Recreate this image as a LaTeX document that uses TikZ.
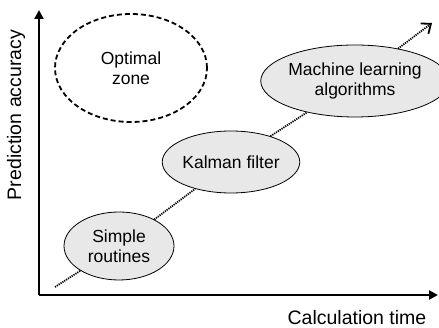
\documentclass[tikz,border=0pt]{standalone}
\usepackage{fontspec}
\setmainfont{Liberation Sans}
\usetikzlibrary{arrows.meta,shapes.geometric}
\begin{document}
\begin{tikzpicture}[x=1pt,y=1pt,
  axis/.style={line width=2.6pt,-{Triangle[length=9pt,width=9pt]}},
  stage/.style={ellipse,draw,line width=0.8pt,fill=gray!18,align=center,
    font=\fontsize{17.5}{20}\selectfont,inner sep=0pt},
  goal/.style={ellipse,draw,dashed,dash pattern=on 5pt off 3pt,line width=1.8pt,
    align=center,font=\fontsize{17.5}{20}\selectfont,inner sep=0pt},
  trend/.style={line width=1.8pt,dash pattern=on 1.2pt off 1pt},
  axlabel/.style={font=\fontsize{19.5}{22}\selectfont,inner sep=0pt}]
\useasboundingbox (0,0) rectangle (439,328);
% axes
\coordinate (o) at (39,33);
\coordinate (ytop) at (39,318);
\coordinate (xend) at (438,33);
\draw[axis] (o) -- (ytop);
\draw[axis] (o) -- (xend);
\node[axlabel,rotate=90] (ylab) at (16,213) {Prediction accuracy};
\node[axlabel] (xlab) at (357,10) {Calculation time};
% regions
\node[goal,minimum width=152,minimum height=108] (opt) at (131,260) {Optimal\\zone};
\node[stage,minimum width=110,minimum height=68] (simple) at (119,82) {Simple\\routines};
\node[stage,minimum width=117,minimum height=62] (kalman) at (231,166) {Kalman filter};
\node[stage,minimum width=164,minimum height=72] (ml) at (355,247) {Machine learning\\algorithms};
% trend line
\coordinate (tstart) at (55,41);
\coordinate (tend) at (432,305);
\draw[trend] (tstart) -- (simple);
\draw[trend] (simple) -- (kalman);
\draw[trend] (kalman) -- (ml);
\draw[trend,-{Straight Barb[length=8pt,width=13pt,line width=1.8pt]}] (ml) -- (tend);
\end{tikzpicture}
\end{document}
